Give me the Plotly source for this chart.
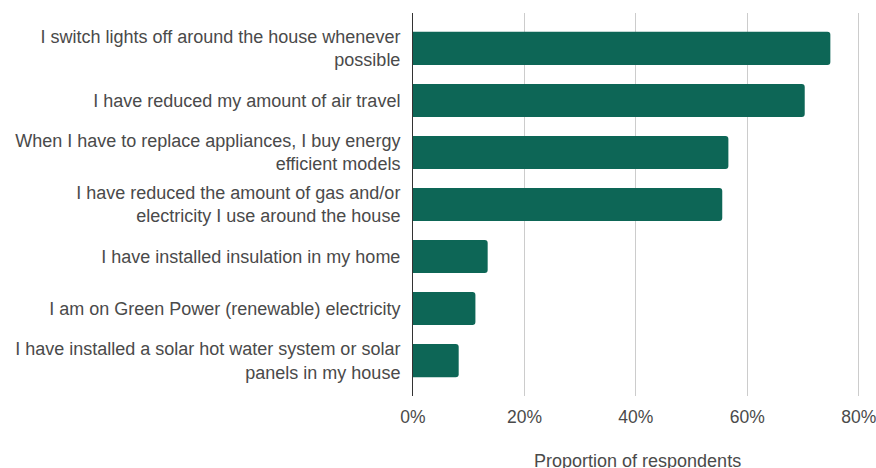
import plotly.graph_objects as go

# Survey responses: share of respondents reporting each energy-saving action
actions = [
    "I switch lights off around the house whenever<br>possible",
    "I have reduced my amount of air travel",
    "When I have to replace appliances, I buy energy<br>efficient models",
    "I have reduced the amount of gas and/or<br>electricity I use around the house",
    "I have installed insulation in my home",
    "I am on Green Power (renewable) electricity",
    "I have installed a solar hot water system or solar<br>panels in my house",
]
share_pct = [74.9, 70.3, 56.6, 55.5, 13.4, 11.2, 8.2]

tick_vals = [0, 20, 40, 60, 80]
tick_text = ["0%", "20%", "40%", "60%", "80%"]
x_title = "Proportion of respondents"

BAR_COLOUR = "#0d6656"
TEXT_COLOUR = "#4a4a4a"
FONT = "Liberation Sans, Arial, sans-serif"

fig = go.Figure(
    go.Bar(
        x=share_pct,
        y=actions,
        orientation="h",
        marker=dict(color=BAR_COLOUR, line=dict(width=0)),
        hovertemplate="%{y}: %{x:.1f}%<extra></extra>",
    )
)

fig.update_layout(
    width=876,
    height=468,
    margin=dict(l=413, r=15, t=13, b=72),
    paper_bgcolor="white",
    plot_bgcolor="white",
    bargap=0.365,
    barcornerradius=3,
    showlegend=False,
    font=dict(family=FONT, size=18, color=TEXT_COLOUR),
)

# x-axis title placed as a paper-referenced annotation below the tick labels
fig.add_annotation(
    text=x_title,
    xref="paper", yref="paper",
    x=0.5, y=-0.17,
    xanchor="center", yanchor="middle",
    showarrow=False,
    font=dict(size=18, color=TEXT_COLOUR),
)

fig.update_xaxes(
    range=[0, 80.4],
    tickvals=tick_vals,
    ticktext=tick_text,
    showgrid=True,
    gridcolor="#cccccc",
    gridwidth=1,
    zeroline=False,
    showline=False,
    automargin=False,
    ticks="outside",
    ticklen=5,
    tickcolor="rgba(0,0,0,0)",
    ticklabeloverflow="allow",
    tickfont=dict(size=17.5, color=TEXT_COLOUR),
)

fig.update_yaxes(
    categoryorder="array",
    categoryarray=actions,
    range=[6.68, -0.68],
    showline=True,
    linecolor="#333333",
    linewidth=1,
    showgrid=False,
    automargin=False,
    ticks="outside",
    ticklen=8,
    tickcolor="rgba(0,0,0,0)",
    tickfont=dict(size=18, color=TEXT_COLOUR),
)

fig.write_html("out.html")
